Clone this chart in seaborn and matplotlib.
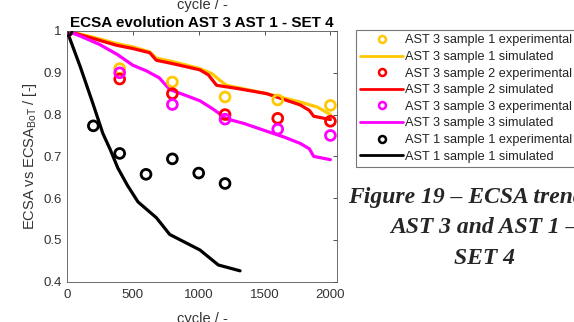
import numpy as np
import pandas as pd
import seaborn as sns
import matplotlib.pyplot as plt
from matplotlib.lines import Line2D
from matplotlib.ticker import FormatStrFormatter

# experimental points
exp_cycles_ast3 = [0, 400, 800, 1200, 1600, 2000]
exp_s1 = [1.0, 0.910, 0.878, 0.842, 0.835, 0.822]
exp_s2 = [1.0, 0.885, 0.850, 0.800, 0.791, 0.784]
exp_s3 = [1.0, 0.900, 0.824, 0.789, 0.765, 0.750]
exp_cycles_ast1 = [0, 200, 400, 600, 800, 1000, 1200]
exp_ast1 = [1.0, 0.773, 0.707, 0.657, 0.694, 0.660, 0.635]

# simulated curves
sim_cycles_s1 = [0, 200, 374, 500, 628, 678, 800, 1009, 1100, 1160, 1212, 1517, 1771, 1900, 2000]
sim_s1 = [1.0, 0.985, 0.970, 0.962, 0.950, 0.935, 0.927, 0.910, 0.898, 0.882, 0.870, 0.850, 0.830, 0.818, 0.800]
sim_cycles_s2 = [0, 200, 374, 500, 628, 678, 800, 1009, 1073, 1136, 1300, 1517, 1771, 1840, 1873, 2000]
sim_s2 = [1.0, 0.982, 0.966, 0.958, 0.948, 0.930, 0.922, 0.907, 0.895, 0.870, 0.862, 0.850, 0.823, 0.810, 0.796, 0.788]
sim_cycles_s3 = [0, 100, 246, 386, 500, 600, 700, 780, 900, 1009, 1100, 1212, 1350, 1517, 1650, 1771, 1840, 1873, 2000]
sim_s3 = [1.0, 0.988, 0.968, 0.943, 0.918, 0.905, 0.888, 0.860, 0.846, 0.833, 0.815, 0.790, 0.778, 0.760, 0.746, 0.731, 0.718, 0.700, 0.692]
sim_cycles_ast1 = [0, 100, 196, 272, 330, 386, 460, 539, 679, 780, 1009, 1149, 1314]
sim_ast1 = [1.0, 0.915, 0.827, 0.755, 0.715, 0.672, 0.630, 0.591, 0.553, 0.513, 0.476, 0.440, 0.426]

labels = ["AST 3 sample 1", "AST 3 sample 2", "AST 3 sample 3", "AST 1 sample 1"]
colors = ["#FFC800", "#FF0000", "#FF00FF", "#000000"]
caption = ["Figure 19 \u2013 ECSA trend for", "AST 3 and AST 1 \u2013", "SET 4"]

sns.set_theme(style="white")
plt.rcParams['font.family'] = ['Liberation Sans', 'DejaVu Sans']
plt.rcParams['mathtext.fontset'] = 'custom'
plt.rcParams['mathtext.rm'] = 'Liberation Sans'
txt = "#333333"

fig = plt.figure(figsize=(5.74, 3.22), dpi=100)
ax = fig.add_axes([67 / 574, 1 - 281.7 / 322, 270 / 574, 250.7 / 322])

sims = [(sim_cycles_s1, sim_s1), (sim_cycles_s2, sim_s2), (sim_cycles_s3, sim_s3), (sim_cycles_ast1, sim_ast1)]
exps = [(exp_cycles_ast3, exp_s1), (exp_cycles_ast3, exp_s2), (exp_cycles_ast3, exp_s3), (exp_cycles_ast1, exp_ast1)]

for (xs, ys), (xe, ye), c in zip(sims, exps, colors):
    df = pd.DataFrame({"cycle": xs, "ecsa": ys})
    sns.lineplot(data=df, x="cycle", y="ecsa", color=c, linewidth=2.3, sort=False,
                 estimator=None, ax=ax)
    de = pd.DataFrame({"cycle": xe, "ecsa": ye})
    sns.scatterplot(data=de, x="cycle", y="ecsa", marker="o", s=50, facecolors="none",
                    edgecolor=c, color=c, linewidth=2.0, ax=ax, zorder=3)

ax.set_xlim(0, 2050)
ax.set_ylim(0.4, 1.0)
ax.set_xticks([0, 500, 1000, 1500, 2000])
ax.set_yticks([0.4, 0.5, 0.6, 0.7, 0.8, 0.9, 1.0])
ax.yaxis.set_major_formatter(FormatStrFormatter('%g'))
ax.tick_params(direction="in", length=3, top=True, right=True, labelsize=9.5,
               colors=txt, width=0.6)
ax.tick_params(axis="x", pad=5)
ax.tick_params(axis="y", pad=4)
for s in ax.spines.values():
    s.set_color("#555555")
    s.set_linewidth(0.6)
ax.set_xlabel("cycle / -", fontsize=10.5, color=txt, labelpad=8)
ax.set_ylabel("ECSA vs ECSA$_{\\mathrm{BoT}}$ / [-]", fontsize=10.5, color=txt, labelpad=3)
ax.set_title("ECSA evolution AST 3 AST 1 - SET 4", fontsize=11, fontweight="bold",
             color="#000000", pad=3)

# leftover label of the chart above
fig.text(202 / 574, 1 - 5 / 322, "cycle / -", fontsize=10.5, color=txt, ha="center", va="center")

handles = []
names = []
for lab, c in zip(labels, colors):
    handles.append(Line2D([], [], linestyle="none", marker="o", markersize=5,
                          markerfacecolor="none", markeredgecolor=c, markeredgewidth=1.8))
    names.append(lab + " experimental")
    handles.append(Line2D([], [], color=c, linewidth=2.0))
    names.append(lab + " simulated")

leg = fig.legend(handles, names, loc="upper left", bbox_to_anchor=(356 / 574, 1 - 30 / 322),
                 fontsize=9.2, frameon=True, fancybox=False, framealpha=1,
                 edgecolor="#777777", labelspacing=0.36, handlelength=3.3,
                 handletextpad=0.15, borderpad=0.35, borderaxespad=0)
leg.get_frame().set_linewidth(0.8)
for t in leg.get_texts():
    t.set_color("#222222")

for i, line in enumerate(caption):
    fig.text(484 / 574, 1 - (197 + 30.5 * i) / 322, line, fontsize=17,
             family="Liberation Serif", style="italic", fontweight="bold",
             ha="center", va="center")

fig.savefig("out.png", dpi=100)
